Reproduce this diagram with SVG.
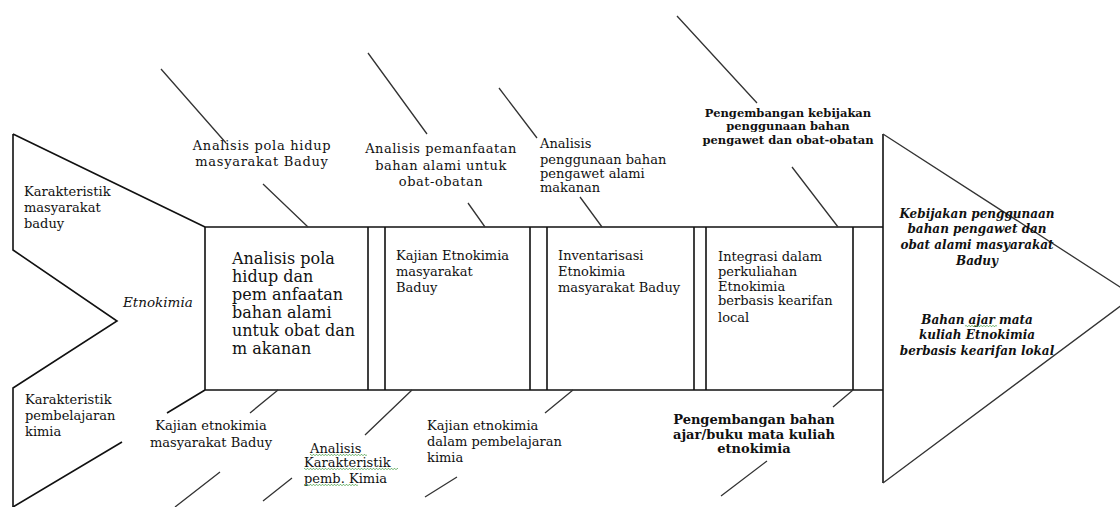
<svg xmlns="http://www.w3.org/2000/svg" width="1120" height="507" viewBox="0 0 1120 507">
<style>
  .frame{fill:none;stroke:#111;stroke-width:1.6}
  .rib{fill:none;stroke:#333;stroke-width:1.3}
  text{font-family:"DejaVu Serif","Liberation Serif",serif;fill:#111;font-size:13px}
  .big{font-size:16px}
  .bold{font-weight:bold;font-size:11.5px}
  .bold13{font-weight:bold;font-size:13px}
  .bi{font-weight:bold;font-style:italic;font-size:12px}
  .it{font-style:italic;font-size:13.5px}
  .mid{text-anchor:middle}
  .wide{letter-spacing:0.7px}
  .wide2{letter-spacing:0.5px}
</style>
<defs>
  <pattern id="sq" width="3" height="2" patternUnits="userSpaceOnUse">
    <polyline points="0,1.8 1.5,0.2 3,1.8" fill="none" stroke="#3f9a3f" stroke-width="0.8"/>
  </pattern>
</defs>
<rect width="1120" height="507" fill="#fff"/>

<g id="tail">
  <path class="frame" d="M13,134 L205,227 M13,134 L13,250 L117,321 L13,388 L13,507"/>
  <path class="frame" d="M13,507 L122,442 M167,413 L205,390"/>
  <text x="24" y="196">Karakteristik</text>
  <text x="24" y="212">masyarakat</text>
  <text x="24" y="228">baduy</text>
  <text class="it" x="123" y="307">Etnokimia</text>
  <text x="25" y="404">Karakteristik</text>
  <text x="25" y="420">pembelajaran</text>
  <text x="25" y="436">kimia</text>
</g>

<g id="spine">
  <path class="frame" d="M205,227 L883,227 M205,390 L883,390"/>
</g>

<g id="box1">
  <path class="frame" d="M205,227 L205,390 M368,227 L368,390"/>
  <text class="big" x="232" y="264">Analisis pola</text>
  <text class="big" x="232" y="282">hidup dan</text>
  <text class="big" x="232" y="300">pem anfaatan</text>
  <text class="big" x="232" y="318">bahan alami</text>
  <text class="big" x="232" y="336">untuk obat dan</text>
  <text class="big" x="232" y="354">m akanan</text>
</g>
<g id="box2">
  <path class="frame" d="M385,227 L385,390 M530,227 L530,390"/>
  <text x="396" y="260">Kajian Etnokimia</text>
  <text x="396" y="276">masyarakat</text>
  <text x="396" y="292">Baduy</text>
</g>
<g id="box3">
  <path class="frame" d="M547,227 L547,390 M694,227 L694,390"/>
  <text x="558" y="260">Inventarisasi</text>
  <text x="558" y="276">Etnokimia</text>
  <text x="558" y="292">masyarakat Baduy</text>
</g>
<g id="box4">
  <path class="frame" d="M706,227 L706,390 M853,227 L853,390"/>
  <text x="718" y="261">Integrasi dalam</text>
  <text x="718" y="276">perkuliahan</text>
  <text x="718" y="291">Etnokimia</text>
  <text x="718" y="305">berbasis kearifan</text>
  <text x="718" y="322">local</text>
</g>

<g id="head">
  <path class="frame" d="M883,134 L883,483"/>
  <path class="rib" d="M883,134 L1134,296 L883,483"/>
  <text class="bi mid" x="977" y="218">Kebijakan penggunaan</text>
  <text class="bi mid" x="977" y="233">bahan pengawet dan</text>
  <text class="bi mid" x="977" y="249">obat alami masyarakat</text>
  <text class="bi mid" x="977" y="265">Baduy</text>
  <text class="bi mid" x="977" y="324">Bahan ajar mata</text>
  <text class="bi mid" x="977" y="339">kuliah Etnokimia</text>
  <text class="bi mid" x="977" y="355">berbasis kearifan lokal</text>
  <rect x="965" y="325" width="32" height="2" fill="url(#sq)"/>
</g>

<g id="connectors">
  <path class="rib" d="M161,69 L226,143 M263,184 L308,227"/>
  <path class="rib" d="M368,53 L427,134 M468,203 L485,227"/>
  <path class="rib" d="M499,88 L537,138 M580,197 L602,227"/>
  <path class="rib" d="M677,16 L757,103 M792,167 L838,227"/>
  <path class="rib" d="M175,507 L220,472 M250,413 L278,390"/>
  <path class="rib" d="M263,501 L292,478 M365,435 L412,390"/>
  <path class="rib" d="M425,497 L457,477 M545,413 L573,390"/>
  <path class="rib" d="M721,496 L767,461 M833,407 L853,390"/>
</g>

<g id="label-top1">
  <text class="mid wide" x="262" y="150">Analisis pola hidup</text>
  <text class="mid wide" x="262" y="166">masyarakat Baduy</text>
</g>
<g id="label-top2">
  <text class="mid wide2" x="441" y="153">Analisis pemanfaatan</text>
  <text class="mid wide2" x="441" y="169.5">bahan alami untuk</text>
  <text class="mid wide2" x="441" y="186">obat-obatan</text>
</g>
<g id="label-top3">
  <text x="540" y="148">Analisis</text>
  <text x="540" y="164">penggunaan bahan</text>
  <text x="540" y="178">pengawet alami</text>
  <text x="540" y="192">makanan</text>
</g>
<g id="label-top4">
  <text class="bold mid" x="788" y="117">Pengembangan kebijakan</text>
  <text class="bold mid" x="788" y="130">penggunaan  bahan</text>
  <text class="bold mid" x="788" y="144">pengawet dan obat-obatan</text>
</g>
<g id="label-bot1">
  <text class="mid" x="211" y="430">Kajian etnokimia</text>
  <text class="mid" x="211" y="447">masyarakat Baduy</text>
</g>
<g id="label-bot2">
  <text x="310" y="453">Analisis</text>
  <text x="304" y="467">Karakteristik</text>
  <text x="304" y="483">pemb. Kimia</text>
  <rect x="310" y="454" width="57" height="2" fill="url(#sq)"/>
  <rect x="304" y="468" width="94" height="2" fill="url(#sq)"/>
  <rect x="304" y="484" width="54" height="2" fill="url(#sq)"/>
</g>
<g id="label-bot3">
  <text x="427" y="430">Kajian etnokimia</text>
  <text x="427" y="446">dalam pembelajaran</text>
  <text x="427" y="462">kimia</text>
</g>
<g id="label-bot4">
  <text class="bold13 mid" x="754" y="424">Pengembangan bahan</text>
  <text class="bold13 mid" x="754" y="439">ajar/buku mata kuliah</text>
  <text class="bold13 mid" x="754" y="453">etnokimia</text>
</g>
</svg>
